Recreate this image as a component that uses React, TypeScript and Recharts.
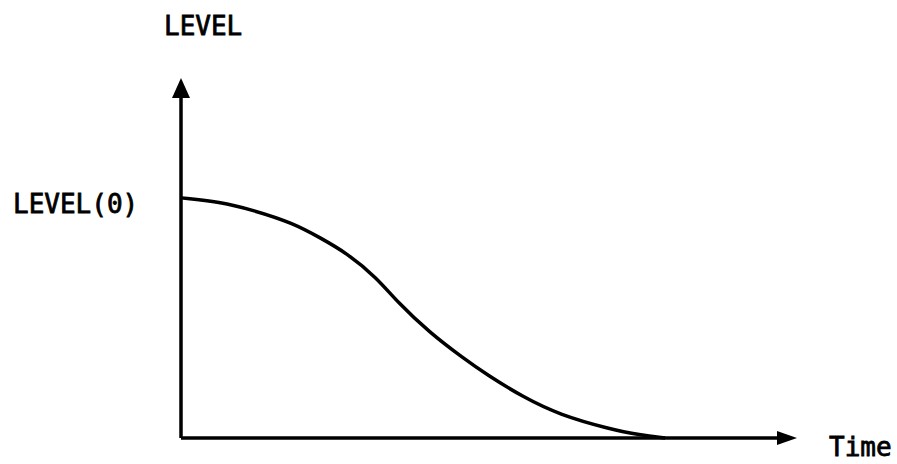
import React from "react";
import {
  LineChart,
  Line,
  XAxis,
  YAxis,
  ReferenceLine,
  ReferenceDot,
  Customized,
} from "recharts";

// time vs level (axes run 0..100)
const times = [0, 6.3, 11.7, 18.2, 22.6, 26.9, 31.8, 35.1, 40.4, 45.8, 49.7, 55.5, 61.5, 69.6, 74.5, 78.6];
const levels = [66.7, 65.6, 63.3, 59.7, 55.6, 51.4, 44.5, 37.8, 29.2, 22.2, 17.5, 11.4, 6.4, 2.5, 0.8, 0];
const data = times.map((t, i) => ({ t, level: levels[i] }));

const axisMax = 100;
const font = "'DejaVu Sans Mono', monospace";

const ArrowRight = (props: any) => (
  <path
    d={`M${props.cx},${props.cy} L${props.cx - 20},${props.cy - 7} L${props.cx - 20},${props.cy + 7} Z`}
    fill="#000"
  />
);

const ArrowUp = (props: any) => (
  <path
    d={`M${props.cx},${props.cy} L${props.cx - 9},${props.cy + 20} L${props.cx + 9},${props.cy + 20} Z`}
    fill="#000"
  />
);

const Labels = () => (
  <g fontFamily={font} fontSize={26} fill="#000" stroke="#000" strokeWidth={0.8}>
    <text x={164} y={35}>LEVEL</text>
    <text x={13} y={213}>LEVEL(0)</text>
    <text x={829} y={456}>Time</text>
  </g>
);

export default function App() {
  return (
    <div style={{ position: "absolute", left: 0, top: 0, background: "#fff" }}>
      <LineChart
        width={897}
        height={464}
        data={data}
        margin={{ top: 78, right: 100, bottom: 26, left: 181 }}
      >
        <XAxis dataKey="t" type="number" domain={[0, axisMax]} hide />
        <YAxis type="number" domain={[0, axisMax]} hide />
        <ReferenceLine
          segment={[{ x: 0, y: 0 }, { x: axisMax - 2, y: 0 }]}
          stroke="#000"
          strokeWidth={3.5}
        />
        <ReferenceLine
          segment={[{ x: 0, y: 0 }, { x: 0, y: axisMax - 3 }]}
          stroke="#000"
          strokeWidth={3.5}
        />
        <ReferenceDot x={axisMax} y={0} shape={ArrowRight} />
        <ReferenceDot x={0} y={axisMax} shape={ArrowUp} />
        <Line
          type="basis"
          dataKey="level"
          stroke="#000"
          strokeWidth={3.5}
          dot={false}
          isAnimationActive={false}
        />
        <Customized component={Labels} />
      </LineChart>
    </div>
  );
}
